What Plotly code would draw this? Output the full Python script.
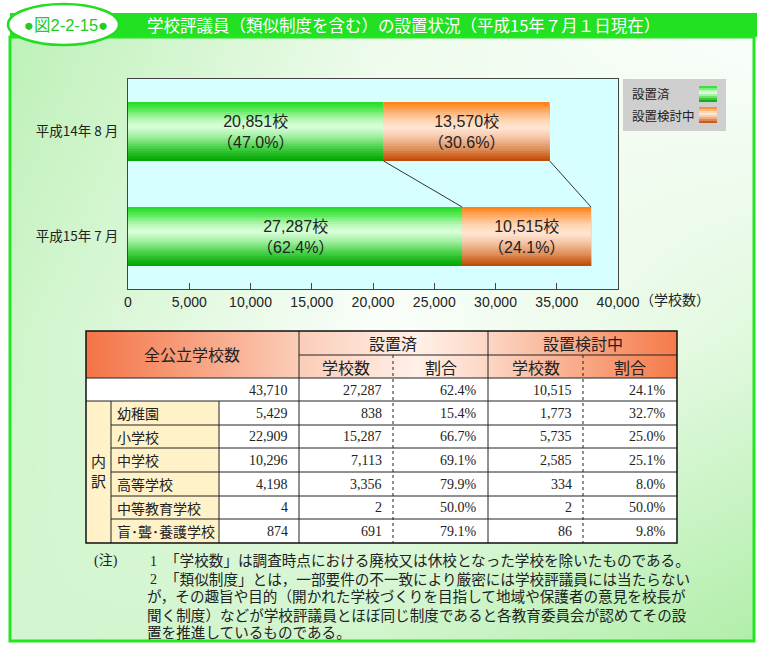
import plotly.graph_objects as go

W, H = 760, 648

# ---- data ----
periods = ["平成14年 8 月", "平成15年 7 月"]
installed = [20851, 27287]
considering = [13570, 10515]
installed_pct = [47.0, 62.4]
considering_pct = [30.6, 24.1]
axis_ticks = [0, 5000, 10000, 15000, 20000, 25000, 30000, 35000, 40000]

all_row = [43710, 27287, 62.4, 10515, 24.1]
school_types = ["幼稚園", "小学校", "中学校", "高等学校", "中等教育学校", "盲･聾･養護学校"]
type_total = [5429, 22909, 10296, 4198, 4, 874]
type_installed = [838, 15287, 7113, 3356, 2, 691]
type_installed_pct = [15.4, 66.7, 69.1, 79.9, 50.0, 79.1]
type_considering = [1773, 5735, 2585, 334, 2, 86]
type_considering_pct = [32.7, 25.0, 25.1, 8.0, 50.0, 9.8]

notes = [
    "「学校数」は調査時点における廃校又は休校となった学校を除いたものである。",
    "「類似制度」とは，一部要件の不一致により厳密には学校評議員には当たらない",
    "が，その趣旨や目的（開かれた学校づくりを目指して地域や保護者の意見を校長が",
    "聞く制度）などが学校評議員とほぼ同じ制度であると各教育委員会が認めてその設",
    "置を推進しているものである。",
]

SANS = "Noto Sans CJK JP"
LAT = "Liberation Sans, Noto Sans CJK JP"
SERIF = "Liberation Serif, Noto Sans CJK JP"

GREEN = [(0, "#1edc1e"), (0.12, "#55e855"), (0.3, "#b8f8b8"), (0.42, "#dcffdc"),
         (0.6, "#9aee9a"), (0.8, "#3ccc3c"), (1, "#00a400")]
ORANGE = [(0, "#ff7d0a"), (0.12, "#ffa45a"), (0.3, "#ffd4b0"), (0.45, "#ffe6d4"),
          (0.62, "#f4c0a0"), (0.82, "#dc8850"), (1, "#c04400")]


def px(x):
    return x / W


def py(y):
    return 1 - y / H


def mix(stops, t):
    for (t0, c0), (t1, c1) in zip(stops, stops[1:]):
        if t <= t1:
            f = (t - t0) / (t1 - t0)
            a = [int(c0[i:i + 2], 16) for i in (1, 3, 5)]
            b = [int(c1[i:i + 2], 16) for i in (1, 3, 5)]
            return "rgb(%d,%d,%d)" % tuple(round(p + (q - p) * f) for p, q in zip(a, b))
    return stops[-1][1]


shapes = []
ann = []


def rect(x0, y0, x1, y1, fill=None, color=None, width=0, dash="solid", kind="rect"):
    shapes.append(dict(type=kind, xref="paper", yref="paper",
                       x0=px(x0), x1=px(x1), y0=py(y1), y1=py(y0),
                       fillcolor=fill or "rgba(0,0,0,0)",
                       line=dict(color=color or "rgba(0,0,0,0)", width=width, dash=dash)))


def line(x0, y0, x1, y1, color="#222", width=1, dash="solid"):
    shapes.append(dict(type="line", xref="paper", yref="paper",
                       x0=px(x0), x1=px(x1), y0=py(y0), y1=py(y1),
                       line=dict(color=color, width=width, dash=dash)))


def text(x, y, s, size=14, color="#222", family=SANS, xanchor="center"):
    ann.append(dict(xref="paper", yref="paper", x=px(x), y=py(y), text=s,
                    showarrow=False, xanchor=xanchor, yanchor="middle",
                    font=dict(size=size, color=color, family=family)))


fig = go.Figure()

# background gradient of the frame
fig.add_trace(go.Heatmap(z=[[0.5, 0.55, 0.9], [0.55, 0.05, 0.35], [0.75, 0.2, 0.05]],
                         x=[0, 1, 2], y=[0, 1, 2], zsmooth="best", zmin=0, zmax=1,
                         colorscale=[[0, "#ffffff"], [1, "#a8eca0"]], showscale=False,
                         hoverinfo="skip", xaxis="x", yaxis="y"))

# bars built from stacked strips to imitate the gradient
BAR_W = 0.56
N = 24
pos = list(range(len(periods)))
for k in range(N):
    t = (k + 0.5) / N
    off = -BAR_W / 2 + k * BAR_W / N
    wid = BAR_W - k * BAR_W / N
    fig.add_trace(go.Bar(y=pos, x=installed, base=0, orientation="h", offset=off, width=wid,
                         marker=dict(color=mix(GREEN, t), line_width=0),
                         hoverinfo="skip", showlegend=False, xaxis="x2", yaxis="y2"))
    fig.add_trace(go.Bar(y=pos, x=considering, base=installed, orientation="h", offset=off, width=wid,
                         marker=dict(color=mix(ORANGE, t), line_width=0),
                         hoverinfo="skip", showlegend=False, xaxis="x2", yaxis="y2"))

ends = [a + b for a, b in zip(installed, considering)]
for xs in (installed, ends):
    fig.add_trace(go.Scatter(x=xs, y=[pos[0] + BAR_W / 2, pos[1] - BAR_W / 2], mode="lines",
                             line=dict(color="#333", width=1), hoverinfo="skip",
                             showlegend=False, xaxis="x2", yaxis="y2"))

for i in pos:
    ann.append(dict(xref="x2", yref="y2", x=installed[i] / 2, y=i, showarrow=False,
                    text=f"{installed[i]:,}校<br>（{installed_pct[i]:.1f}%）",
                    font=dict(size=16, color="#222", family=LAT)))
    ann.append(dict(xref="x2", yref="y2", x=installed[i] + considering[i] / 2, y=i, showarrow=False,
                    text=f"{considering[i]:,}校<br>（{considering_pct[i]:.1f}%）",
                    font=dict(size=16, color="#222", family=LAT)))

# table header gradient
fig.add_trace(go.Heatmap(z=[[0, 1], [0, 1]], x=[0, 1], y=[0, 1], zsmooth="best", zmin=0, zmax=1,
                         colorscale=[[0, "#f47446"], [0.36, "#fbcdb8"], [0.56, "#fff0e8"],
                                     [0.68, "#fcd6c4"], [1, "#f57a48"]],
                         showscale=False, hoverinfo="skip", xaxis="x3", yaxis="y3"))

# ---- frame & title ----
rect(10, 13, 757, 37, fill="#22e022")
rect(10, 37, 754, 641, color="#22e622", width=3)
rect(8, 4, 119, 45, fill="white", color="#22dd22", width=2.5, kind="circle")
text(66, 25, "●図2-2-15●", size=16.5, color="#22cc22", family=LAT)
text(145, 25, "学校評議員（類似制度を含む）の設置状況（平成15年７月１日現在）",
     size=16.5, color="white", xanchor="left")

# ---- legend ----
rect(623, 79, 726, 131, fill="#cfcfcf")
for (label, stops), ty in zip([("設置済", GREEN), ("設置検討中", ORANGE)], [94, 115]):
    text(630, ty, label, size=12.5, xanchor="left")
    for k in range(8):
        rect(699, ty - 8 + k * 2, 717, ty - 6 + k * 2, fill=mix(stops, (k + 0.5) / 8))
text(638, 300, "（学校数）", size=14, family=LAT, xanchor="left")

# ---- table ----
cols = [86, 111, 219, 299, 393, 488, 583, 677]
rows = [331, 355, 378, 401, 425, 448, 472, 496, 519, 543]
rect(86, 378, 677, 401, fill="white")
rect(219, 401, 677, 543, fill="white")
rect(86, 401, 219, 543, fill="#fff2c8")

line(299, 355, 677, 355)
for y in rows[2:4]:
    line(86, y, 677, y)
for y in rows[4:-1]:
    line(111, y, 677, y)
line(111, 401, 111, 543)
line(219, 401, 219, 543)
line(299, 331, 299, 543)
line(488, 331, 488, 543)
line(393, 355, 393, 543, dash="dot")
line(583, 355, 583, 543, dash="dot")
rect(86, 331, 677, 543, color="#111", width=1.5)

text(192, 354, "全公立学校数", size=16)
text(393, 343, "設置済", size=16)
text(583, 343, "設置検討中", size=16)
for c0, c1, s in [(299, 393, "学校数"), (393, 488, "割合"), (488, 583, "学校数"), (583, 677, "割合")]:
    text((c0 + c1) / 2, 367, s, size=16)

rights = [290, 384, 479, 574, 668]
vals = [f"{all_row[0]:,}", f"{all_row[1]:,}", f"{all_row[2]:.1f}%", f"{all_row[3]:,}", f"{all_row[4]:.1f}%"]
for xr, v in zip(rights, vals):
    text(xr, 390, v, size=14, family=SERIF, xanchor="right")

text(98.5, 470, "内<br>訳", size=15)
for i, name in enumerate(school_types):
    yc = (rows[3 + i] + rows[4 + i]) / 2
    text(115, yc, name, size=14, xanchor="left")
    vals = [f"{type_total[i]:,}", f"{type_installed[i]:,}", f"{type_installed_pct[i]:.1f}%",
            f"{type_considering[i]:,}", f"{type_considering_pct[i]:.1f}%"]
    for xr, v in zip(rights, vals):
        text(xr, yc, v, size=14, family=SERIF, xanchor="right")

# ---- notes ----
text(92, 561, "(注)", size=14, family=SERIF, xanchor="left")
text(148, 561, "1", size=14, family=SERIF, xanchor="left")
text(148, 579, "2", size=14, family=SERIF, xanchor="left")
for i, s in enumerate(notes):
    text(163 if i < 2 else 145, 561 + i * 18, s, size=14.6, family=SERIF, xanchor="left")

fig.update_layout(
    width=W, height=H, autosize=False,
    margin=dict(l=0, r=0, t=0, b=0, autoexpand=False),
    paper_bgcolor="white", plot_bgcolor="#d8ffff",
    barmode="overlay", showlegend=False,
    shapes=shapes, annotations=ann,
    xaxis=dict(domain=[px(10), px(754)], range=[0, 2], visible=False, anchor="y", fixedrange=True),
    yaxis=dict(domain=[py(641), py(37)], range=[0, 2], visible=False, anchor="x", fixedrange=True),
    xaxis2=dict(domain=[px(128), px(618)], range=[0, 40000], anchor="y2",
                tickvals=axis_ticks, tickformat=",", ticks="inside", ticklen=6, tickcolor="#444",
                showline=True, mirror=True, linecolor="#444", linewidth=1,
                showgrid=False, zeroline=False,
                tickfont=dict(size=14, color="#222", family=LAT)),
    yaxis2=dict(domain=[py(289), py(79)], range=[1.5, -0.5], anchor="x2",
                tickvals=pos, ticktext=periods, ticks="",
                showline=True, mirror=True, linecolor="#444", linewidth=1,
                showgrid=False, zeroline=False, ticklabelstandoff=6,
                tickfont=dict(size=13.5, color="#222", family=SANS)),
    xaxis3=dict(domain=[px(86), px(677)], range=[0, 1], visible=False, anchor="y3", fixedrange=True),
    yaxis3=dict(domain=[py(378), py(331)], range=[0, 1], visible=False, anchor="x3", fixedrange=True),
)

# the page's default body margin would shift the figure by 8px
fig.write_html("out.html", config={"responsive": False, "displayModeBar": False},
               post_script="document.body.style.margin='0';")
